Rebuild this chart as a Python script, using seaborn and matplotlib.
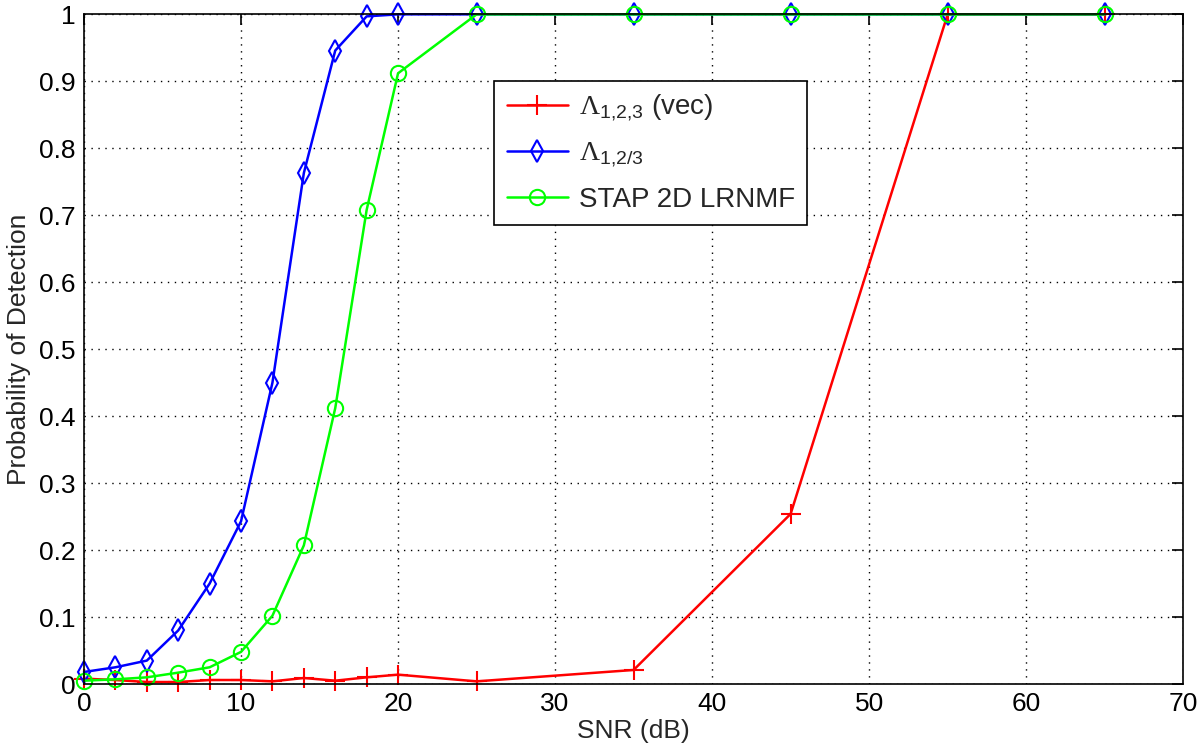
import numpy as np
import pandas as pd
import seaborn as sns
import matplotlib.pyplot as plt

# SNR (dB) values shared by all curves
snr = [0, 2, 4, 6, 8, 10, 12, 14, 16, 18, 20, 25, 35, 45, 55, 65]

# Probability of detection for each detector
pd_vec = [0.008, 0.006, 0.003, 0.003, 0.006, 0.006, 0.004, 0.009, 0.005, 0.010,
          0.014, 0.004, 0.021, 0.254, 1.0, 1.0]
pd_123 = [0.018, 0.025, 0.035, 0.080, 0.150, 0.243, 0.450, 0.763, 0.946, 0.997,
          1.0, 1.0, 1.0, 1.0, 1.0, 1.0]
pd_stap = [0.005, 0.007, 0.010, 0.017, 0.025, 0.048, 0.102, 0.207, 0.412, 0.708,
           0.912, 1.0, 1.0, 1.0, 1.0, 1.0]

labels = [r'$\mathrm{\Lambda}_{\mathsf{1{,}2{,}3}}$ (vec)',
          r'$\mathrm{\Lambda}_{\mathsf{1{,}2/3}}$',
          'STAP 2D LRNMF']
colores = ['#ff0000', '#0000ff', '#00ff00']
marcadores = ['+', 'd', 'o']
tamanos = [14, 11, 11]

sns.set_style('white')
plt.rcParams['font.family'] = ['Liberation Sans', 'DejaVu Sans']
plt.rcParams['mathtext.fontset'] = 'custom'
plt.rcParams['mathtext.rm'] = 'Liberation Serif'
plt.rcParams['mathtext.sf'] = 'Liberation Sans'

fig = plt.figure(figsize=(12, 7.55), dpi=100)
ax = fig.add_axes([0.07, 0.094, 0.916, 0.887])

for serie, lab, col, mk, ms in zip([pd_vec, pd_123, pd_stap], labels, colores, marcadores, tamanos):
    sns.lineplot(x=snr, y=serie, ax=ax, color=col, marker=mk, markersize=ms,
                 markerfacecolor='none', markeredgecolor=col, markeredgewidth=1.5,
                 linewidth=1.8, label=lab, clip_on=False)

ax.set_xlim(0, 70)
ax.set_ylim(0, 1)
ax.set_xticks(np.arange(0, 71, 10))
yt = np.round(np.arange(0, 1.01, 0.1), 1)
ax.set_yticks(yt)
ax.set_yticklabels(['0' if v == 0 else ('1' if v == 1 else f'{v:g}') for v in yt])
ax.tick_params(direction='in', length=8, width=1.2, labelsize=19, top=True, right=True,
               colors='black', pad=6)
ax.grid(True, linestyle=(0, (1, 4)), color='black', linewidth=1.0)
for s in ax.spines.values():
    s.set_color('black')
    s.set_linewidth(1.2)

ax.set_xlabel('SNR (dB)', fontsize=19, labelpad=2)
ax.set_ylabel('Probability of Detection', fontsize=19, labelpad=6)

leg = ax.legend(loc='upper left', bbox_to_anchor=(0.373, 0.901), borderaxespad=0,
                fontsize=20, frameon=True, fancybox=False, edgecolor='black', framealpha=1,
                handlelength=2.2, borderpad=0.45, labelspacing=0.6, handletextpad=0.4)
leg.get_frame().set_linewidth(1.2)

plt.savefig('out.png', dpi=100)
